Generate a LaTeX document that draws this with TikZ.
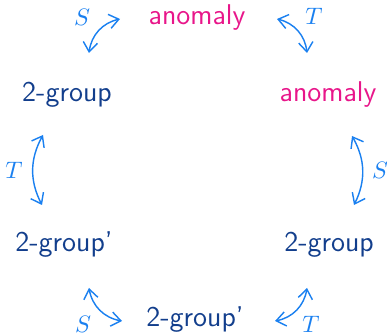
\documentclass[tikz,border=0pt]{standalone}
\usepackage{xcolor}
\usetikzlibrary{arrows.meta,positioning}

\definecolor{anomcol}{HTML}{E8168A}
\definecolor{grpcol}{HTML}{123E8C}
\definecolor{dualcol}{HTML}{1A80F0}

\tikzset{
    anom/.style={text=anomcol, font=\sffamily\large, inner sep=1pt},
    grp/.style={text=grpcol, font=\sffamily\large, inner sep=1pt},
    dual/.style={<->, >={Straight Barb[length=4pt,width=6pt]}, draw=dualcol, semithick},
    duallbl/.style={text=dualcol, inner sep=0pt}
}

\begin{document}
\begin{tikzpicture}[x=0.42pt, y=0.42pt]
    \useasboundingbox (0,0) rectangle (387,335);

    % Theories
    \node[anom] (anomTop)   at (197,317) {anomaly};
    \node[grp]  (grpLeft)   at (67,240)  {2-group};
    \node[anom] (anomRight) at (328,240) {anomaly};
    \node[grp]  (grpPLeft)  at (64,90)   {2-group'};
    \node[grp]  (grpRight)  at (329,90)  {2-group};
    \node[grp]  (grpPBot)   at (195,15)  {2-group'};

    % Dualities
    \draw[dual] ([shift={(22,42)}]grpLeft.center) to[bend left=35] ([shift={(-77,-1)}]anomTop.center);
    \draw[dual] ([shift={(80,-1)}]anomTop.center) to[bend left=35] ([shift={(-21,42)}]anomRight.center);
    \draw[dual] ([shift={(-22,40)}]grpPLeft.center) to[bend left=28] ([shift={(-24,-40)}]grpLeft.center);
    \draw[dual] ([shift={(24,-41)}]anomRight.center) to[bend left=28] ([shift={(25,40)}]grpRight.center);
    \draw[dual] ([shift={(-73,-1)}]grpPBot.center) to[bend left=35] ([shift={(25,-43)}]grpPLeft.center);
    \draw[dual] ([shift={(-22,-43)}]grpRight.center) to[bend left=35] ([shift={(80,-1)}]grpPBot.center);

    % Labels
    \node[duallbl] (sTop)   at (82,318)  {$S$};
    \node[duallbl] (tTop)   at (314,319) {$T$};
    \node[duallbl] (tLeft)  at (14,165)  {$T$};
    \node[duallbl] (sRight) at (380,165) {$S$};
    \node[duallbl] (sBot)   at (83,11)   {$S$};
    \node[duallbl] (tBot)   at (311,11)  {$T$};
\end{tikzpicture}
\end{document}
